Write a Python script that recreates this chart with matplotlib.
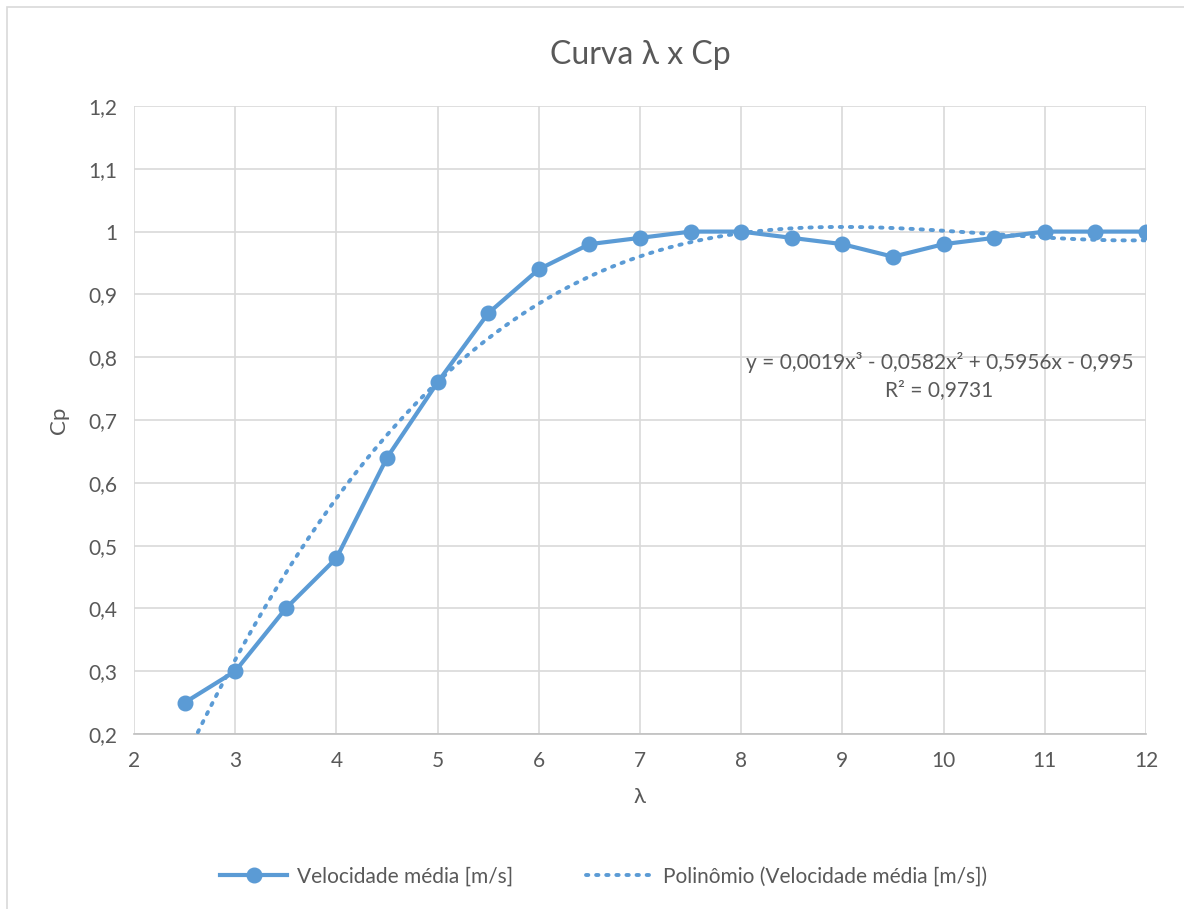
import matplotlib
matplotlib.use("Agg")
import matplotlib.pyplot as plt
import numpy as np
from matplotlib.patches import Rectangle

# data
lam = [2.5, 3, 3.5, 4, 4.5, 5, 5.5, 6, 6.5, 7, 7.5, 8, 8.5, 9, 9.5, 10, 10.5, 11, 11.5, 12]
cp = [0.25, 0.30, 0.40, 0.48, 0.64, 0.76, 0.87, 0.94, 0.98, 0.99, 1.00, 1.00,
      0.99, 0.98, 0.96, 0.98, 0.99, 1.00, 1.00, 1.00]
eq_text = "y = 0,0019x³ - 0,0582x² + 0,5956x - 0,995\nR² = 0,9731"
series_name = "Velocidade média [m/s]"
trend_name = "Polinômio (Velocidade média [m/s])"

blue = "#5B9BD5"
txt = "#595959"
plt.rcParams["font.family"] = ["Lato", "DejaVu Sans"]

fig = plt.figure(figsize=(11.84, 9.09), dpi=100)
ax = fig.add_axes([0.1132, 0.1925, 0.8547, 0.6909])

# outer chart border
fig.patches.append(Rectangle((7 / 1184, -0.01), 1.1, 1 - 7 / 909 + 0.01,
                             transform=fig.transFigure, fill=False,
                             edgecolor="#D9D9D9", linewidth=1.2))

# cubic trendline fitted to the series (as Excel does)
coef = np.polyfit(lam, cp, 3)
xs = np.linspace(2.5, 12, 300)
ax.plot(xs, np.polyval(coef, xs), color=blue, linestyle=(0, (0.6, 2.0)),
        linewidth=2.8, dash_capstyle="round", label=trend_name, zorder=3)
ax.plot(lam, cp, color=blue, linewidth=3, marker="o", markersize=10.5,
        label=series_name, zorder=4)

ax.set_xlim(2, 12)
ax.set_ylim(0.2, 1.2)
ax.set_xticks(range(2, 13))
yt = np.round(np.arange(0.2, 1.21, 0.1), 1)
ax.set_yticks(yt)
ax.set_yticklabels([("%g" % v).replace(".", ",") for v in yt])
ax.grid(True, color="#D9D9D9", linewidth=1.2)
ax.set_axisbelow(True)
for s in ["top", "right", "left"]:
    ax.spines[s].set_visible(False)
ax.spines["bottom"].set_color("#BFBFBF")
ax.spines["bottom"].set_linewidth(1.2)
ax.tick_params(length=0, labelsize=15, colors=txt, pad=12)

ax.set_title("Curva λ x Cp", fontsize=23, color=txt, pad=30)
ax.set_xlabel("λ", fontsize=16, color=txt, labelpad=12)
ax.set_ylabel("Cp", fontsize=16, color=txt, labelpad=14)

ax.text(9.96, 0.77, eq_text, ha="center", va="center", fontsize=15,
        color=txt, linespacing=1.45)

h, l = ax.get_legend_handles_labels()
fig.legend(h[::-1], l[::-1], loc="center", bbox_to_anchor=(0.51, 0.036),
           ncol=2, frameon=False, fontsize=15, labelcolor=txt,
           handlelength=3.2, handletextpad=0.5, columnspacing=3.5)

fig.savefig("out.png", dpi=100)
